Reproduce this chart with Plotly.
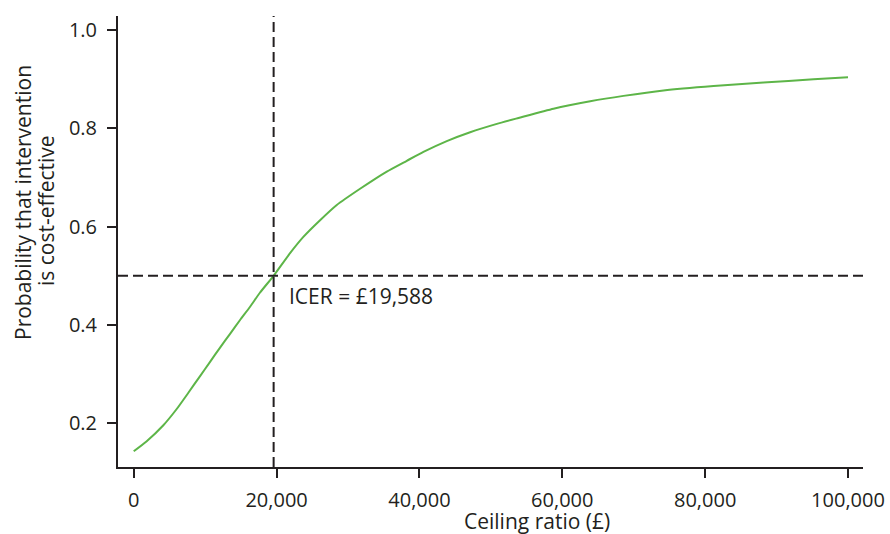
import plotly.graph_objects as go

# Ceiling ratio (£) and probability that intervention is cost-effective
ceiling = [0, 1780, 4150, 6020, 7650, 9290, 10690, 12090, 13490, 14890, 16290,
           17690, 19588, 21890, 23750, 26090, 28430, 31690, 35430, 38230, 40560,
           43830, 47100, 50840, 53870, 58770, 63910, 68570, 74170, 81180, 88180,
           95180, 100000]
prob = [0.143, 0.163, 0.196, 0.229, 0.262, 0.296, 0.325, 0.354, 0.382, 0.410, 0.437,
        0.466, 0.500, 0.546, 0.579, 0.613, 0.644, 0.677, 0.712, 0.734, 0.752,
        0.774, 0.792, 0.809, 0.821, 0.840, 0.855, 0.866, 0.877, 0.886, 0.893,
        0.900, 0.904]

icer = 19588
threshold = 0.5
icer_label = "ICER = £19,588"

x_ticks = [0, 20000, 40000, 60000, 80000, 100000]
x_ticklabels = ["0", "20,000", "40,000", "60,000", "80,000", "100,000"]
y_ticks = [0.2, 0.4, 0.6, 0.8, 1.0]
y_ticklabels = ["0.2", "0.4", "0.6", "0.8", "1.0"]

x_title = "Ceiling ratio (£)"
y_title_lines = ["Probability that intervention", "is cost-effective"]

ink = "#231f20"
font_family = "Open Sans, Noto Sans, sans-serif"
tick_size = 20
text_size = 21

# the page's body margin is removed (see post_script), so the figure sits at 0,0
W, H = 890, 534
ml, mr, mt, mb = 118, 27, 16, 67
PW, PH = W - ml - mr, H - mt - mb


def px_to_paper(px, py):
    return (px - ml) / PW, (H - mb - py) / PH


fig = go.Figure()
fig.add_trace(go.Scatter(x=ceiling, y=prob, mode="lines",
                         line=dict(color="#5db548", width=2, shape="spline", smoothing=0.5),
                         showlegend=False, hoverinfo="skip"))

fig.add_shape(type="line", xref="x", yref="paper", x0=icer, x1=icer, y0=0, y1=1,
              line=dict(color=ink, width=2, dash="10px,5px"))
fig.add_shape(type="line", xref="paper", yref="y", x0=0, x1=1, y0=threshold, y1=threshold,
              line=dict(color=ink, width=2, dash="10px,5px"))

fig.add_annotation(x=21500, y=0.459, xref="x", yref="y", text=icer_label,
                   showarrow=False, xanchor="left", yanchor="middle",
                   font=dict(size=text_size, color=ink, family=font_family))

for (cx, cy), line in zip([(23, 202), (46, 211)], y_title_lines):
    ax, ay = px_to_paper(cx, cy)
    fig.add_annotation(x=ax, y=ay, xref="paper", yref="paper", text=line,
                       showarrow=False, textangle=-90, xanchor="center", yanchor="middle",
                       font=dict(size=text_size, color=ink, family=font_family))

tx, ty = px_to_paper(537, 521)
fig.add_annotation(x=tx, y=ty, xref="paper", yref="paper", text=x_title,
                   showarrow=False, xanchor="center", yanchor="middle",
                   font=dict(size=text_size, color=ink, family=font_family))

fig.update_layout(
    width=W, height=H,
    margin=dict(l=ml, r=mr, t=mt, b=mb, autoexpand=False),
    plot_bgcolor="white", paper_bgcolor="white",
    font=dict(family=font_family, size=tick_size, color=ink),
    xaxis=dict(range=[-2200, 102100], tickvals=x_ticks, ticktext=x_ticklabels,
               showgrid=False, zeroline=False, showline=True, linecolor=ink, linewidth=2,
               ticks="outside", ticklen=9, tickwidth=1.5, tickcolor=ink,
               ticklabelstandoff=5, automargin=False),
    yaxis=dict(range=[0.111, 1.0285], tickvals=y_ticks, ticktext=y_ticklabels,
               showgrid=False, zeroline=False, showline=True, linecolor=ink, linewidth=2,
               ticks="outside", ticklen=9, tickwidth=1.5, tickcolor=ink,
               ticklabelstandoff=6, automargin=False),
)

fig.write_html("out.html", config={"displayModeBar": False},
               post_script="document.body.style.margin='0';document.body.style.overflow='hidden';")
